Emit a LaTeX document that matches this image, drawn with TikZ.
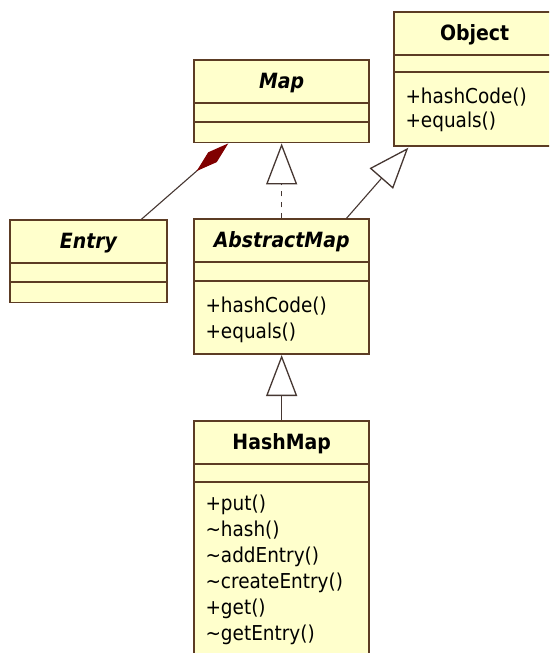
\documentclass[tikz,border=0pt]{standalone}
\usepackage{fontspec}
\setmainfont{DejaVu Sans Condensed}
\usetikzlibrary{arrows.meta,calc}
\definecolor{umlfill}{RGB}{255,255,204}
\definecolor{umlline}{RGB}{92,60,36}
\definecolor{conn}{RGB}{70,55,50}
\definecolor{diam}{RGB}{128,0,0}
\begin{document}
\begin{tikzpicture}[x=1pt,y=-1pt,
  box/.style={draw=umlline, fill=umlfill, line width=1.7pt, rectangle, anchor=north west, inner sep=0pt},
  divider/.style={draw=umlline, line width=1.7pt},
  ctitle/.style={font=\fontsize{21}{25}\selectfont\bfseries, anchor=base, inner sep=0pt},
  meth/.style={font=\fontsize{20.5}{25}\selectfont, anchor=base west, inner sep=0pt},
  link/.style={draw=conn, line width=1.1pt},
  gen/.style={link, -{Triangle[length=41pt,width=31pt,fill=white,line width=1.3pt]}},
  comp/.style={link, {Diamond[length=42pt,width=13pt,fill=diam,color=diam]}-}
]
\useasboundingbox (0,0) rectangle (549,653);
\fill[white] (0,0) rectangle (549,653);
\clip (0,0) rectangle (549,653);

% Object
\node[box, minimum width=161pt, minimum height=134pt] (obj) at (393.3,11) {};
\draw[divider] ($(obj.north west)+(0,44)$) -- ($(obj.north east)+(0,44)$);
\draw[divider] ($(obj.north west)+(0,61)$) -- ($(obj.north east)+(0,61)$);
\node[ctitle] (objt) at ($(obj.north)+(0,29.6)$) {Object};
\node[meth] (objm1) at ($(obj.north west)+(12,92.5)$) {+hashCode()};
\node[meth] (objm2) at ($(obj.north west)+(12,116.5)$) {+equals()};

% Map
\node[box, minimum width=175pt, minimum height=82.4pt] (map) at (193.3,59.3) {};
\draw[divider] ($(map.north west)+(0,44)$) -- ($(map.north east)+(0,44)$);
\draw[divider] ($(map.north west)+(0,62.4)$) -- ($(map.north east)+(0,62.4)$);
\node[ctitle] (mapt) at ($(map.north)+(0,29.6)$) {\itshape Map};

% Entry
\node[box, minimum width=156.7pt, minimum height=82.4pt] (entry) at (9.3,219.3) {};
\draw[divider] ($(entry.north west)+(0,44)$) -- ($(entry.north east)+(0,44)$);
\draw[divider] ($(entry.north west)+(0,62.4)$) -- ($(entry.north east)+(0,62.4)$);
\node[ctitle] (entryt) at ($(entry.north)+(0,29.6)$) {\itshape Entry};

% AbstractMap
\node[box, minimum width=175pt, minimum height=135pt] (abs) at (193.3,218.3) {};
\draw[divider] ($(abs.north west)+(0,44)$) -- ($(abs.north east)+(0,44)$);
\draw[divider] ($(abs.north west)+(0,62.4)$) -- ($(abs.north east)+(0,62.4)$);
\node[ctitle] (abst) at ($(abs.north)+(0,29.6)$) {\itshape AbstractMap};
\node[meth] (absm1) at ($(abs.north west)+(12,94)$) {+hashCode()};
\node[meth] (absm2) at ($(abs.north west)+(12,120)$) {+equals()};

% HashMap
\node[box, minimum width=175pt, minimum height=260pt] (hash) at (193.3,420) {};
\draw[divider] ($(hash.north west)+(0,44)$) -- ($(hash.north east)+(0,44)$);
\draw[divider] ($(hash.north west)+(0,62.3)$) -- ($(hash.north east)+(0,62.3)$);
\node[ctitle] (hasht) at ($(hash.north)+(0,29.6)$) {HashMap};
\node[meth] (hm1) at ($(hash.north west)+(12,90)$) {+put()};
\node[meth] (hm2) at ($(hash.north west)+(12,116)$) {\char"7E hash()};
\node[meth] (hm3) at ($(hash.north west)+(12,142)$) {\char"7E addEntry()};
\node[meth] (hm4) at ($(hash.north west)+(12,168)$) {\char"7E createEntry()};
\node[meth] (hm5) at ($(hash.north west)+(12,194)$) {+get()};
\node[meth] (hm6) at ($(hash.north west)+(12,220)$) {\char"7E getEntry()};

% connectors
\draw[comp] ($(map.south west)!0.198!(map.south east)$) -- ($(entry.north west)!0.834!(entry.north east)$);
\draw[gen, dash pattern=on 5pt off 6pt] (abs.north) -- (map.south);
\draw[gen] ($(abs.north west)!0.867!(abs.north east)$) -- ($(obj.south west)+(15,1)$);
\draw[gen] (hash.north) -- (abs.south);
\end{tikzpicture}
\end{document}
